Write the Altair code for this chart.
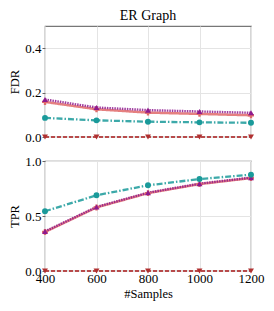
import altair as alt
import pandas as pd

samples = [400, 600, 800, 1000, 1200]
series = ["M1", "M2", "M3", "M4"]
colors = ["#e06a6a", "#8e1a8e", "#1a9a9a", "#b03030"]

fdr_m1 = [0.158, 0.125, 0.110, 0.104, 0.098]
fdr_m2 = [0.169, 0.133, 0.121, 0.115, 0.109]
fdr_m3 = [0.086, 0.075, 0.069, 0.066, 0.064]
fdr_m4 = [0.0, 0.0, 0.0, 0.0, 0.0]

tpr_m1 = [0.355, 0.578, 0.708, 0.790, 0.845]
tpr_m2 = [0.360, 0.582, 0.712, 0.794, 0.849]
tpr_m3 = [0.543, 0.688, 0.779, 0.836, 0.876]
tpr_m4 = [0.0, 0.0, 0.0, 0.0, 0.0]

FONT = "Liberation Serif"


def long_df(vals):
    rows = []
    for s, v in zip(series, vals):
        for x, y in zip(samples, v):
            rows.append({"samples": x, "value": y, "series": s})
    return pd.DataFrame(rows)


fdr = long_df([fdr_m1, fdr_m2, fdr_m3, fdr_m4])
tpr = long_df([tpr_m1, tpr_m2, tpr_m3, tpr_m4])

color_scale = alt.Scale(domain=series, range=colors)
dash_scale = alt.Scale(domain=series, range=[[1, 0], [1.5, 1], [6, 2, 1.5, 2], [4, 2]])
width_scale = alt.Scale(domain=series, range=[2.5, 2.2, 1.5, 1.8])
shape_scale = alt.Scale(domain=series, range=["cross", "triangle-up", "circle", "triangle-down"])


def panel(df, ytitle, yvals, ydomain, bottom, h):
    if bottom:
        xaxis = alt.Axis(values=samples, format="d", title="#Samples", labelFontSize=13,
                         titleFontSize=12.5, labelColor="black",
                         titleColor="black", tickSize=0, domain=False, gridColor="#e4e4e4",
                         titleFontWeight="normal", labelPadding=1, titlePadding=2,
                         labelFlush=False)
    else:
        xaxis = alt.Axis(values=samples, title=None, labels=False, ticks=False, domain=False,
                         gridColor="#e4e4e4")
    x = alt.X("samples:Q", scale=alt.Scale(domain=[400, 1200], nice=False), axis=xaxis)
    y = alt.Y("value:Q", scale=alt.Scale(domain=ydomain, nice=False),
              axis=alt.Axis(values=yvals, format=".1f", title=ytitle, labelFontSize=13,
                            titleFontSize=12.5, labelColor="black",
                            titleColor="black", titleFontWeight="normal", tickSize=3,
                            tickColor="#666", domain=False, gridColor="#e4e4e4",
                            labelPadding=1, titlePadding=3))
    lines = alt.Chart(df).mark_line(opacity=0.85).encode(
        x=x, y=y,
        color=alt.Color("series:N", scale=color_scale, legend=None),
        strokeDash=alt.StrokeDash("series:N", scale=dash_scale, legend=None),
        strokeWidth=alt.StrokeWidth("series:N", scale=width_scale, legend=None),
        detail="series:N",
    )
    pts = alt.Chart(df).mark_point(filled=True, size=35, opacity=1).encode(
        x=x, y=y,
        color=alt.Color("series:N", scale=color_scale, legend=None),
        shape=alt.Shape("series:N", scale=shape_scale, legend=None),
    )
    return alt.layer(lines, pts).properties(width=206, height=h)


top = panel(fdr, "FDR", [0.0, 0.2, 0.4], [0, 0.5], False, 111).properties(
    title=alt.TitleParams("ER Graph", fontSize=14, fontWeight="normal", color="black",
                          offset=3))
bottom = panel(tpr, "TPR", [0.0, 0.5, 1.0], [0, 1], True, 110)

chart = alt.vconcat(top, bottom, spacing=9, padding=0, background="white").configure_view(
    stroke="#777", strokeWidth=1.2
).configure_axis(labelFont=FONT, titleFont=FONT).configure_title(font=FONT)

chart.save("out.html", embed_options={"renderer": "svg", "actions": False})
